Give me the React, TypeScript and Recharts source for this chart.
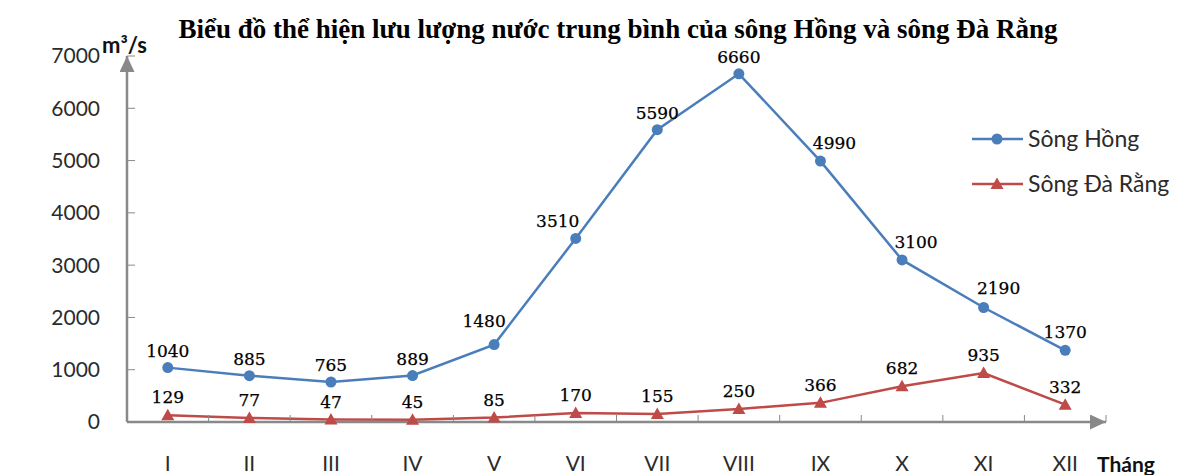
import React from 'react';
import { Legend, Line, LineChart, XAxis, YAxis } from 'recharts';

const months = ['I', 'II', 'III', 'IV', 'V', 'VI', 'VII', 'VIII', 'IX', 'X', 'XI', 'XII'];
const songHong = [1040, 885, 765, 889, 1480, 3510, 5590, 6660, 4990, 3100, 2190, 1370];
const songDaRang = [129, 77, 47, 45, 85, 170, 155, 250, 366, 682, 935, 332];
const yTicks = [0, 1000, 2000, 3000, 4000, 5000, 6000, 7000];

// label nudges (Excel put some labels beside the point)
const hongShiftX = [0, 0, 0, 0, -10, -18, 0, 0, 14, 14, 15, 0];
const hongLift = [11, 11, 11, 11, 18, 11, 11, 11, 12, 12, 13, 12];

const BLUE = '#4a7ebb';
const RED = '#be4b48';
const AXIS = '#898989';
const TEXT = '#2b2b2b';
const SANS = 'Lato, "Open Sans", sans-serif';
const SERIF = '"DejaVu Serif", serif';
const X_TICK_GAP = 34;
const PLOT_W = 979;

const data = months.map((m, i) => ({ month: m, hong: songHong[i], da: songDaRang[i] }));

const hongLabel = (p: any) => (
  <text key={`h${p.index}`} x={p.x + hongShiftX[p.index]} y={p.y - hongLift[p.index]} textAnchor="middle" fontFamily={SERIF} fontSize={17} fill="#000" stroke="#000" strokeWidth={0.25}>
    {p.value}
  </text>
);

const daLabel = (p: any) => (
  <text key={`d${p.index}`} x={p.x} y={p.y - 12} textAnchor="middle" fontFamily={SERIF} fontSize={17} fill="#000" stroke="#000" strokeWidth={0.25}>
    {p.value}
  </text>
);

const triangle = (p: any) => (
  <path key={`t${p.index}`} d={`M${p.cx},${p.cy - 6.5} L${p.cx + 6.5},${p.cy + 5} L${p.cx - 6.5},${p.cy + 5} Z`} fill={RED} />
);

// month label at band centre, tick marks on the band edges (Excel style)
const MonthTick = (p: any) => {
  const count = p.visibleTicksCount || months.length;
  const bw = (typeof p.width === 'number' && p.width > 100 ? p.width : PLOT_W) / count;
  const axisY = p.y - X_TICK_GAP;
  const left = p.x - bw / 2;
  return (
    <g>
      <line x1={left} y1={axisY} x2={left} y2={axisY - 7} stroke={AXIS} strokeWidth={1} />
      {p.index === count - 1 && <line x1={left + bw} y1={axisY} x2={left + bw} y2={axisY - 7} stroke={AXIS} strokeWidth={1} />}
      <text x={p.x} y={p.y + 15} textAnchor="middle" fontFamily={SANS} fontSize={21} fill={TEXT}>
        {p.payload.value}
      </text>
    </g>
  );
};

const renderLegend = () => (
  <svg width={209} height={80}>
    <line x1={6} y1={15} x2={57} y2={15} stroke={BLUE} strokeWidth={2.5} />
    <circle cx={31} cy={15} r={5.5} fill={BLUE} />
    <text x={62} y={23} fontFamily={SANS} fontSize={23} fill={TEXT}>Sông Hồng</text>
    <line x1={6} y1={60} x2={57} y2={60} stroke={RED} strokeWidth={2.5} />
    <path d="M31,53.5 L37.5,65 L24.5,65 Z" fill={RED} />
    <text x={62} y={68} fontFamily={SANS} fontSize={23} fill={TEXT}>Sông Đà Rằng</text>
  </svg>
);

export default function App() {
  return (
    <div style={{ position: 'absolute', left: 0, top: 0, width: 1177, height: 475, background: '#fff' }}>
      <svg width={0} height={0} style={{ position: 'absolute' }}>
        <defs>
          <marker id="axisArrow" markerUnits="userSpaceOnUse" markerWidth={17} markerHeight={15} refX={16} refY={7.5} orient="auto-start-reverse">
            <path d="M0,0 L16,7.5 L0,15 Z" fill={AXIS} />
          </marker>
        </defs>
      </svg>
      <LineChart width={1177} height={475} data={data} margin={{ top: 56, right: 71, bottom: 0, left: 0 }}>
        <XAxis
          dataKey="month"
          scale="band"
          height={53}
          axisLine={{ stroke: AXIS, strokeWidth: 2.5, markerEnd: 'url(#axisArrow)' }}
          tickLine={false}
          tickSize={0}
          tickMargin={X_TICK_GAP}
          interval={0}
          tick={<MonthTick />}
        />
        <YAxis
          width={127}
          domain={[0, 7000]}
          ticks={yTicks}
          tickSize={-8}
          tickMargin={35}
          tickLine={{ stroke: AXIS, strokeWidth: 1 }}
          axisLine={{ stroke: AXIS, strokeWidth: 2.5, markerStart: 'url(#axisArrow)' }}
          tick={{ fill: TEXT, fontSize: 21, fontFamily: SANS }}
        />
        <Legend layout="horizontal" verticalAlign="middle" align="center" wrapperStyle={{ left: 966, top: 124, width: 209 }} content={renderLegend} />
        <Line dataKey="hong" name="Sông Hồng" stroke={BLUE} strokeWidth={2.5} dot={{ r: 5.5, fill: BLUE, stroke: 'none' }} label={hongLabel} isAnimationActive={false} />
        <Line dataKey="da" name="Sông Đà Rằng" stroke={RED} strokeWidth={2.5} dot={triangle} label={daLabel} isAnimationActive={false} />
      </LineChart>
      <svg width={1177} height={475} style={{ position: 'absolute', left: 0, top: 0, pointerEvents: 'none' }}>
        <text x={618} y={38} textAnchor="middle" fontFamily='"Liberation Serif", serif' fontWeight="bold" fontSize={27} fill="#000">
          Biểu đồ thể hiện lưu lượng nước trung bình của sông Hồng và sông Đà Rằng
        </text>
        <text x={102} y={53} fontFamily={SANS} fontWeight="bold" fontSize={22} fill="#111">m³/s</text>
        <text x={1097} y={472} fontFamily={SANS} fontWeight="bold" fontSize={21} fill="#111">Tháng</text>
      </svg>
    </div>
  );
}
